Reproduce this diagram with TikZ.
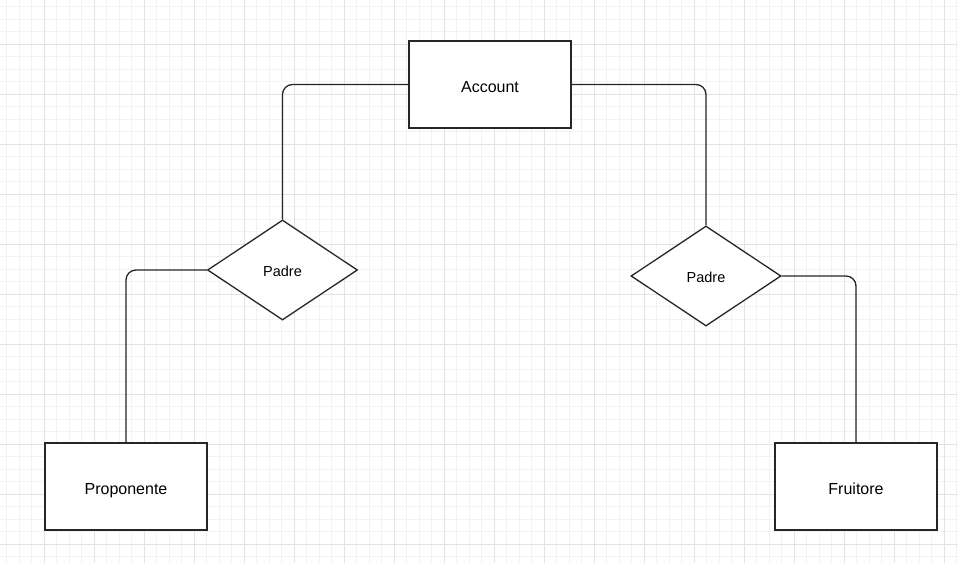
\documentclass[tikz,border=0pt]{standalone}
\usepackage{fontspec}
\setmainfont{Liberation Sans}
\usepackage{tikz}
\usetikzlibrary{shapes.geometric}
\tikzset{
  entity/.style = {draw=black!85, line width=1.3pt, fill=white, rectangle, minimum width=162pt, minimum height=87pt, inner sep=0pt, text height=15pt, text depth=0pt, font=\fontsize{16}{19}\selectfont},
  relation/.style = {draw=black!85, line width=1.3pt, fill=white, diamond, aspect=1.5, minimum width=150pt, minimum height=100pt, inner sep=0pt, text height=12pt, text depth=0pt, font=\fontsize{14.5}{17}\selectfont},
  link/.style = {draw=black!85, line width=1.3pt, rounded corners=10pt},
  minorgrid/.style = {draw=black!5, line width=1pt},
  majorgrid/.style = {draw=black!11, line width=1pt}
}

\begin{document}
\begin{tikzpicture}[x=1pt, y=1pt]
    % background and grid
    \fill [white] (0,0) rectangle (958,-563);
    \useasboundingbox (0,0) rectangle (958,-563);
    \begin{scope}[xshift=44pt, yshift=-44pt]
      \draw [minorgrid, step=12.5pt] (-44,44) grid (914,-519);
      \draw [majorgrid, step=50pt] (-44,44) grid (914,-519);
    \end{scope}
    % entities and relations
    \node [entity] (account) at (490,-84.5) {Account};
    \node [relation] (padreL) at (282.5,-270) {Padre};
    \node [relation] (padreR) at (706,-276) {Padre};
    \node [entity] (proponente) at (126,-486.5) {Proponente};
    \node [entity] (fruitore) at (856,-486.5) {Fruitore};
    % links
    \draw [link] (account.west) -| (padreL.north);
    \draw [link] (account.east) -| (padreR.north);
    \draw [link] (padreL.west) -| (proponente.north);
    \draw [link] (padreR.east) -| (fruitore.north);
\end{tikzpicture}
\end{document}
